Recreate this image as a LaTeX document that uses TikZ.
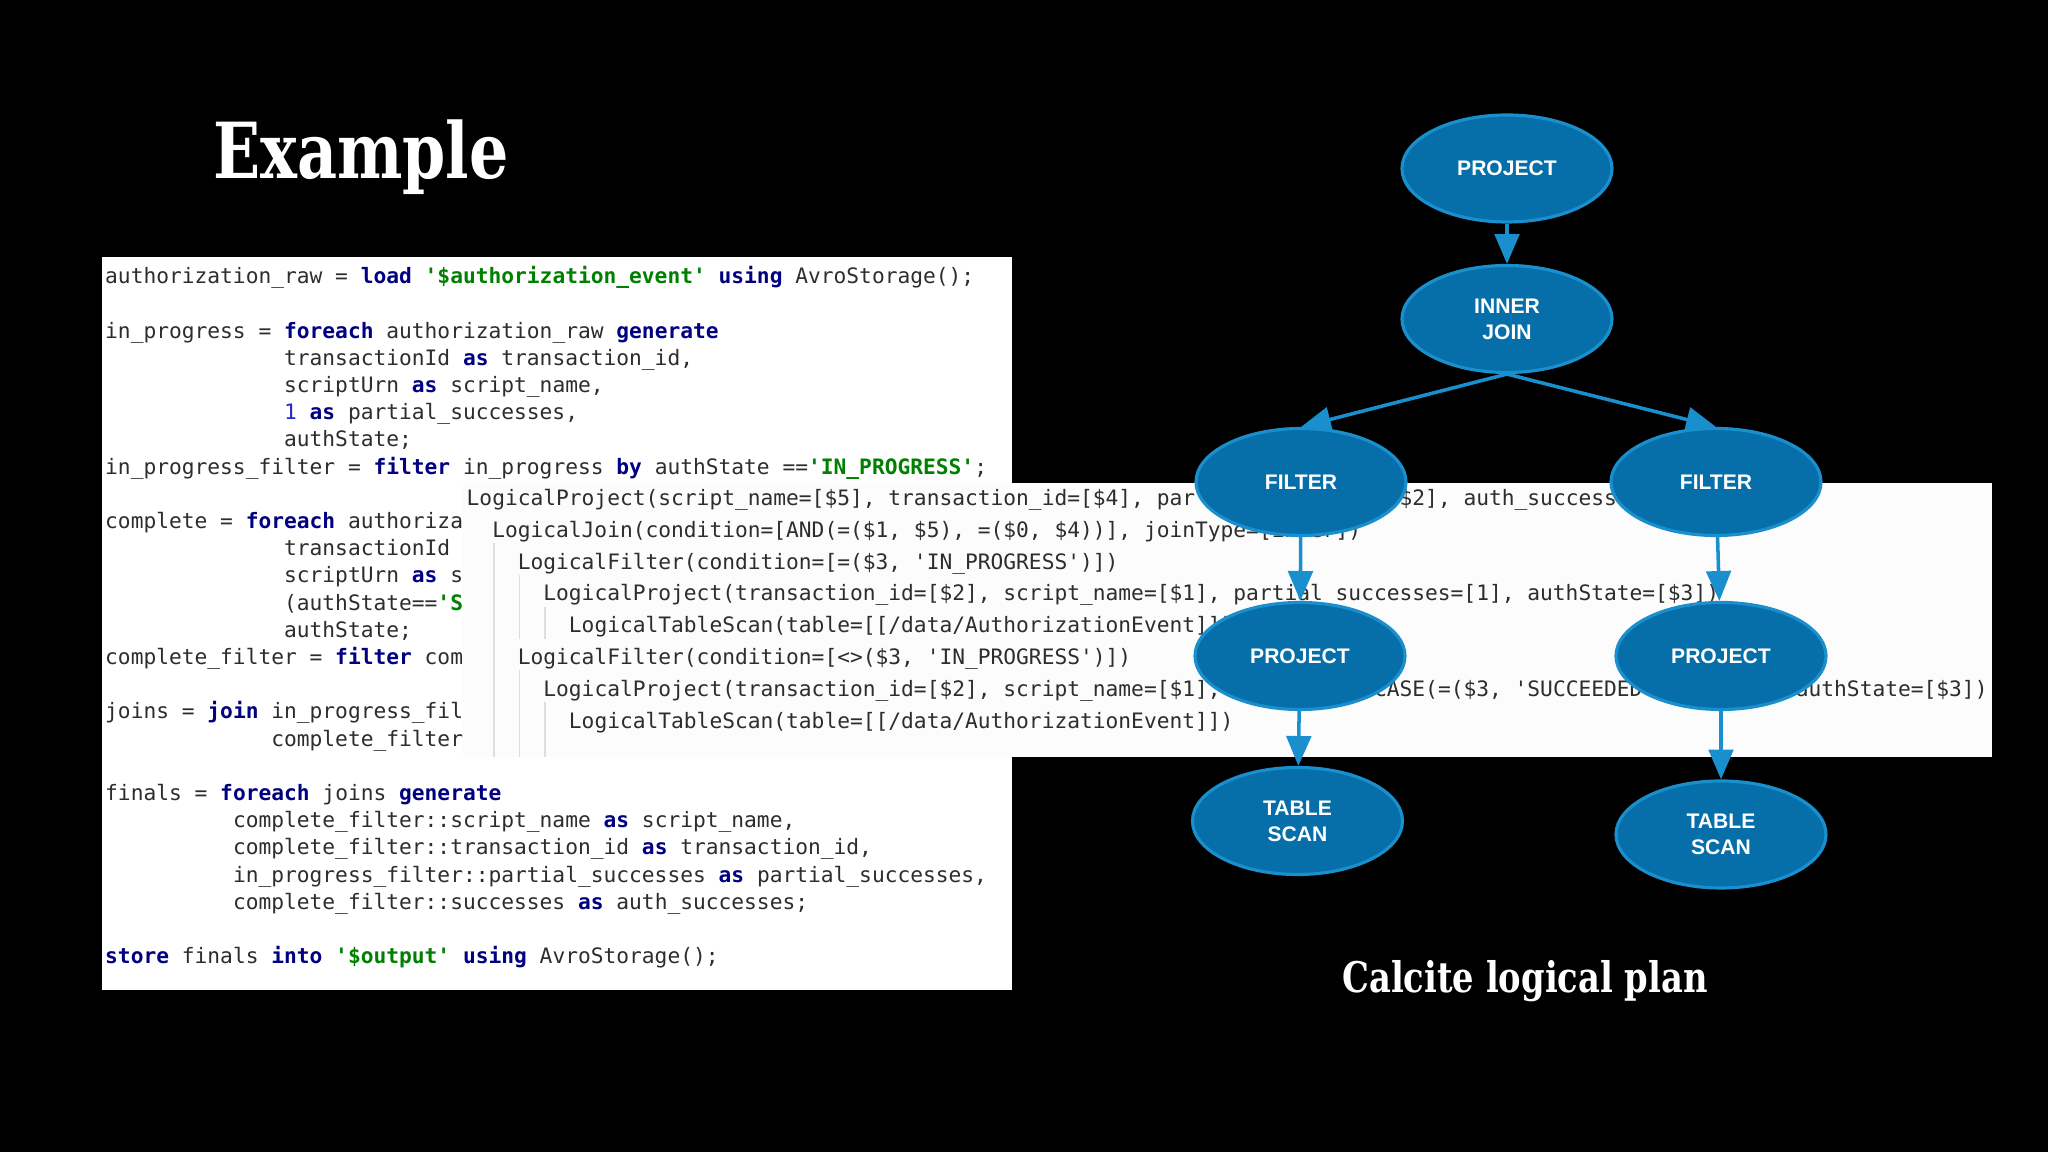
\documentclass[tikz,border=0pt]{standalone}
\usepackage{fontspec}
\setmonofont{DejaVu Sans Mono}
\newfontfamily\nodefont{Liberation Sans}
\newfontfamily\titlefont{DejaVu Serif}[FakeStretch=0.8]
\usetikzlibrary{
  arrows.meta,
  shapes.geometric
}

\definecolor{opblue}{RGB}{6,110,168}
\definecolor{oprim}{RGB}{26,143,205}
\definecolor{kwblue}{RGB}{0,0,128}
\definecolor{strgreen}{RGB}{0,128,0}
\definecolor{numblue}{RGB}{40,40,210}
\definecolor{codetext}{RGB}{45,45,45}
\definecolor{codebg}{RGB}{252,252,252}
\definecolor{guide}{RGB}{222,222,222}

\newcommand\kw[1]{\textcolor{kwblue}{\bfseries#1}}
\newcommand\str[1]{\textcolor{strgreen}{\bfseries#1}}
\newcommand\num[1]{\textcolor{numblue}{#1}}
\newcommand\ind[1]{\hspace*{#1\fontcharwd\font`x}}

\begin{document}
\begin{tikzpicture}[>={Triangle[length=8.5pt,width=7pt]},
  op/.style={ellipse,draw=oprim,line width=0.9pt,fill=opblue,
    minimum width=2.1cm,minimum height=1.07cm,inner sep=0pt,
    text=white,align=center,
    font=\nodefont\bfseries\fontsize{6}{7.4}\selectfont},
  flow/.style={->,draw=oprim,line width=1pt},
  code/.style={anchor=north west,inner sep=0pt,align=left,text=codetext}]

% background
\fill[black] (0,0) rectangle (20.48,11.52);
\useasboundingbox (0,0) rectangle (20.48,11.52);

%--------------------
% Pig script
%--------------------
\fill[white] (1.02,1.62) rectangle (10.12,8.95);
\node[code,font=\ttfamily\fontsize{6.04}{7.74}\selectfont] (pig) at (1.045,8.866) {%
  \rule{0pt}{5pt}authorization\_raw = \kw{load} \str{'\$authorization\_event'} \kw{using} AvroStorage();\\
  \\
  in\_progress = \kw{foreach} authorization\_raw \kw{generate}\\
  \ind{14}transactionId \kw{as} transaction\_id,\\
  \ind{14}scriptUrn \kw{as} script\_name,\\
  \ind{14}\num{1} \kw{as} partial\_successes,\\
  \ind{14}authState;\\
  in\_progress\_filter = \kw{filter} in\_progress \kw{by} authState ==\str{'IN\_PROGRESS'};\\
  \\
  complete = \kw{foreach} authoriza\\
  \ind{14}transactionId\\
  \ind{14}scriptUrn \kw{as} s\\
  \ind{14}(authState==\str{'S}\\
  \ind{14}authState;\\
  complete\_filter = \kw{filter} com\\
  \\
  joins = \kw{join} in\_progress\_fil\\
  \ind{13}complete\_filter\\
  \\
  finals = \kw{foreach} joins \kw{generate}\\
  \ind{10}complete\_filter::script\_name \kw{as} script\_name,\\
  \ind{10}complete\_filter::transaction\_id \kw{as} transaction\_id,\\
  \ind{10}in\_progress\_filter::partial\_successes \kw{as} partial\_successes,\\
  \ind{10}complete\_filter::successes \kw{as} auth\_successes;\\
  \\
  \kw{store} finals \kw{into} \str{'\$output'} \kw{using} AvroStorage();};

%--------------------
% explain output
%--------------------
\fill[codebg] (4.63,3.95) rectangle (19.92,6.69);

% indent guides
\draw[guide,line width=0.4pt] (4.941,6.09) -- (4.941,3.95);
\draw[guide,line width=0.4pt] (5.197,5.77) -- (5.197,5.13);
\draw[guide,line width=0.4pt] (5.197,4.82) -- (5.197,3.95);
\draw[guide,line width=0.4pt] (5.452,5.45) -- (5.452,5.13);
\draw[guide,line width=0.4pt] (5.452,4.50) -- (5.452,3.95);

\node[code,font=\ttfamily\fontsize{6.04}{9.05}\selectfont] (plan) at (4.66,6.648) {%
  \rule{0pt}{5pt}LogicalProject(script\_name=[\$5], transaction\_id=[\$4], par\hphantom{tial\_successes=[}\$2], auth\_success\\
  \ind{2}LogicalJoin(condition=[AND(=(\$1, \$5), =(\$0, \$4))], joinType=[inner])\\
  \ind{4}LogicalFilter(condition=[=(\$3, 'IN\_PROGRESS')])\\
  \ind{6}LogicalProject(transaction\_id=[\$2], script\_name=[\$1], partial\_successes=[1], authState=[\$3])\\
  \ind{8}LogicalTableScan(table=[[/data/AuthorizationEvent]])\\
  \ind{4}LogicalFilter(condition=[<>(\$3, 'IN\_PROGRESS')])\\
  \ind{6}LogicalProject(transaction\_id=[\$2], script\_name=[\$1],\hphantom{ successes=[}CASE(=(\$3, 'SUCCEEDED\hphantom{'), 1, 0)], }authState=[\$3])\\
  \ind{8}LogicalTableScan(table=[[/data/AuthorizationEvent]])};

%--------------------
% logical plan
%--------------------
\node[op] (top)   at (15.07,9.835) {PROJECT};
\node[op] (join)  at (15.07,8.33)  {INNER\\JOIN};
\node[op] (filtL) at (13.01,6.70)  {FILTER};
\node[op] (filtR) at (17.16,6.70)  {FILTER};
\node[op] (projL) at (13.00,4.96)  {PROJECT};
\node[op] (projR) at (17.21,4.96)  {PROJECT};
\node[op] (scanL) at (12.975,3.31) {TABLE\\SCAN};
\node[op] (scanR) at (17.21,3.175) {TABLE\\SCAN};

\draw[flow] (top) -- (join);
\draw[flow] (join.south) -- (filtL.north);
\draw[flow] (join.south) -- (filtR.north);
\draw[flow] (filtL) -- (projL);
\draw[flow] (filtR) -- (projR);
\draw[flow] (projL) -- (scanL);
\draw[flow] (projR) -- (scanR);

% titles
\node[anchor=base,text=white,font=\titlefont\bfseries\fontsize{22}{26}\selectfont]
  (extitle) at (3.61,9.73) {Example};
\node[anchor=base,text=white,font=\titlefont\bfseries\fontsize{12}{14}\selectfont]
  (plantitle) at (15.25,1.59) {Calcite logical plan};

\end{tikzpicture}
\end{document}
